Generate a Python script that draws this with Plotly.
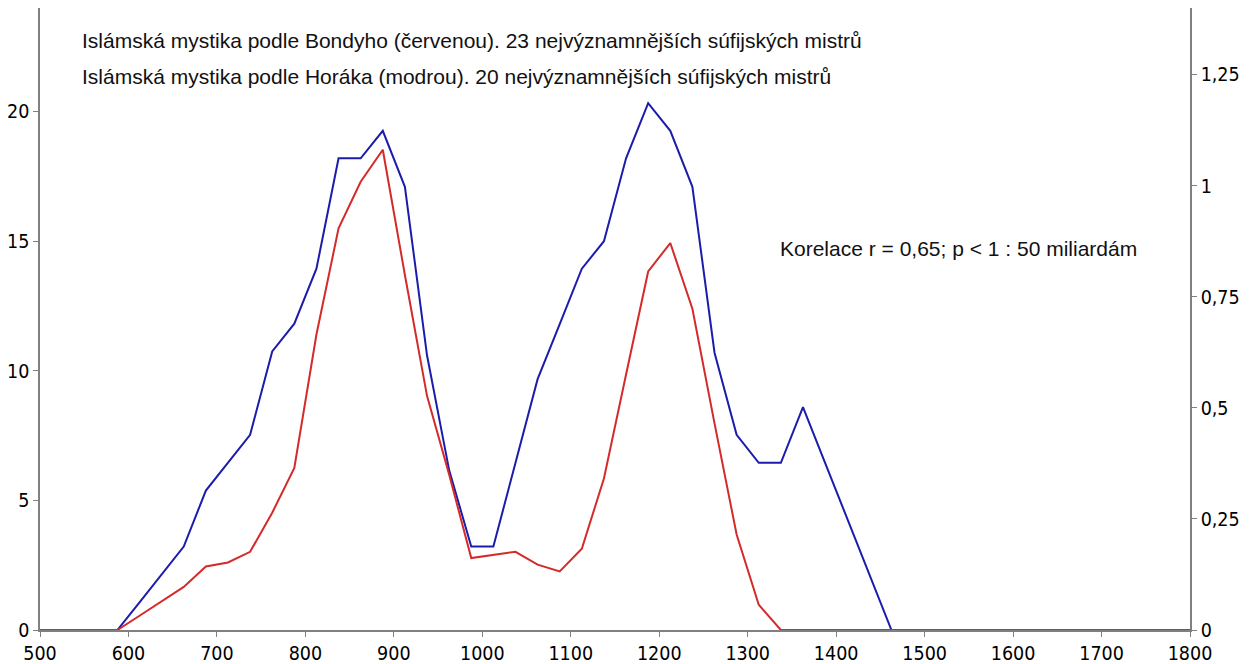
import plotly.graph_objects as go

years = [500, 587.5, 612.5, 637.5, 662.5, 687.5, 712.5, 737.5, 762.5, 787.5,
         812.5, 837.5, 862.5, 887.5, 912.5, 937.5, 962.5, 987.5, 1012.5, 1037.5,
         1062.5, 1087.5, 1112.5, 1137.5, 1162.5, 1187.5, 1212.5, 1237.5, 1262.5, 1287.5,
         1312.5, 1337.5, 1362.5, 1387.5, 1412.5, 1437.5, 1462.5, 1800]

# Horák (blue) - left axis
horak = [0, 0, 1.07, 2.15, 3.22, 5.38, 6.45, 7.53, 10.75, 11.82,
         13.94, 18.2, 18.2, 19.26, 17.1, 10.6, 6.17, 3.22, 3.22, 6.45,
         9.68, 11.8, 13.94, 15.0, 18.2, 20.33, 19.26, 17.1, 10.7, 7.53,
         6.45, 6.45, 8.6, 6.45, 4.3, 2.15, 0, 0]

# Bondy (red) - right axis
bondy = [0, 0, 0.032, 0.064, 0.097, 0.143, 0.152, 0.176, 0.264, 0.365,
         0.665, 0.904, 1.009, 1.081, 0.799, 0.527, 0.350, 0.162, 0.169, 0.176,
         0.147, 0.132, 0.183, 0.341, 0.575, 0.807, 0.871, 0.723, 0.465, 0.215,
         0.057, 0, 0, 0, 0, 0, 0, 0]

x_ticks = [500, 600, 700, 800, 900, 1000, 1100, 1200, 1300, 1400, 1500, 1600, 1700, 1800]
left_ticks = [0, 5, 10, 15, 20]
right_ticks = [0, 0.25, 0.5, 0.75, 1, 1.25]
right_labels = ["0", "0,25", "0,5", "0,75", "1", "1,25"]

line1 = "Islámská mystika podle Bondyho (červenou). 23 nejvýznamnějších súfijských mistrů"
line2 = "Islámská mystika podle Horáka (modrou). 20 nejvýznamnějších súfijských mistrů"
corr = "Korelace r = 0,65; p < 1 : 50 miliardám"

RED = "#d42a2a"
BLUE = "#1c1cac"
AXC = "#808080"
tickfont = dict(family="DejaVu Sans Condensed, DejaVu Sans", size=19.5, color="#000000")

L, R, T, B = 40, 62, 8, 34
PW = 1252 - L - R
PH = 664 - T - B

fig = go.Figure()
fig.add_trace(go.Scatter(x=years, y=bondy, mode="lines", yaxis="y2",
                         line=dict(color=RED, width=2), showlegend=False))
fig.add_trace(go.Scatter(x=years, y=horak, mode="lines",
                         line=dict(color=BLUE, width=2), showlegend=False))

fig.update_layout(
    width=1252, height=664,
    margin=dict(l=L, r=R, t=T, b=B),
    paper_bgcolor="white", plot_bgcolor="white",
    xaxis=dict(range=[500, 1800], tickvals=x_ticks, ticktext=[str(v) for v in x_ticks],
               showgrid=False, zeroline=False, showline=True, linecolor=AXC, linewidth=1.5,
               ticks="outside", ticklen=5, tickcolor=AXC, tickfont=tickfont, automargin=False),
    yaxis=dict(range=[0, 24], tickvals=left_ticks, showgrid=False, zeroline=False,
               showline=True, linecolor=AXC, linewidth=1.5, ticks="outside", ticklen=5,
               tickcolor=AXC, tickfont=tickfont, automargin=False),
    yaxis2=dict(range=[0, 1.4], overlaying="y", side="right", tickvals=right_ticks,
                ticktext=right_labels, showgrid=False, zeroline=False, showline=True,
                linecolor=AXC, linewidth=1.5, ticks="outside", ticklen=5, tickcolor=AXC,
                tickfont=tickfont, automargin=False),
)

annfont = dict(family="Liberation Sans", size=21, color="#111111")
fig.add_annotation(xref="paper", yref="paper", x=(80 - L) / PW, y=(664 - B - 40) / PH,
                   text=line1, showarrow=False, xanchor="left", yanchor="middle", font=annfont)
fig.add_annotation(xref="paper", yref="paper", x=(80 - L) / PW, y=(664 - B - 76) / PH,
                   text=line2, showarrow=False, xanchor="left", yanchor="middle", font=annfont)
fig.add_annotation(xref="paper", yref="paper", x=(778 - L) / PW, y=(664 - B - 248) / PH,
                   text=corr, showarrow=False, xanchor="left", yanchor="middle", font=annfont)

fig.write_html("out.html", config={"displayModeBar": False},
               post_script="document.body.style.margin='0';document.body.style.overflow='hidden';")
